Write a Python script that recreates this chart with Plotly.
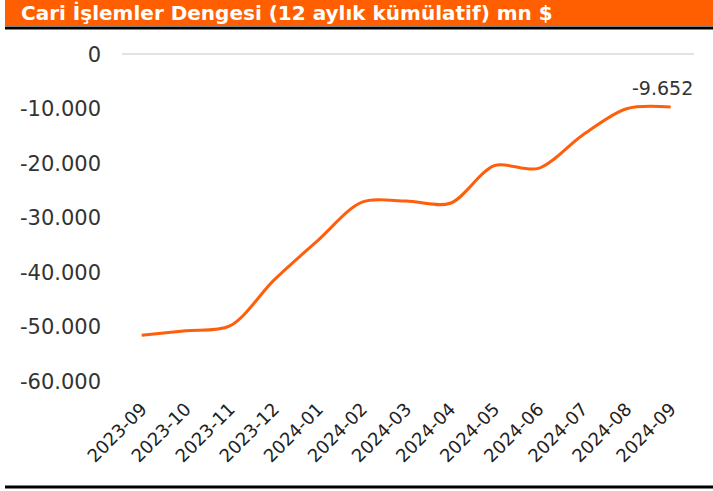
import plotly.graph_objects as go

categories = ["2023-09", "2023-10", "2023-11", "2023-12", "2024-01", "2024-02",
              "2024-03", "2024-04", "2024-05", "2024-06", "2024-07", "2024-08", "2024-09"]
values = [-51500, -50700, -49800, -41400, -34100, -27100,
          -26900, -27300, -20400, -20900, -14800, -9950, -9652]
y_ticks = [0, -10000, -20000, -30000, -40000, -50000, -60000]
y_tick_text = ["0", "-10.000", "-20.000", "-30.000", "-40.000", "-50.000", "-60.000"]
title_text = "Cari İşlemler Dengesi (12 aylık kümülatif) mn $"
last_label = "-9.652"

W, H = 713, 491
L, R, T, B = 122, 694, 49, 387.4

def px(x):
    return (x - L) / (R - L)

def py(y):
    return (B - y) / (B - T)

xs = list(range(len(categories)))

fig = go.Figure()
fig.add_trace(go.Scatter(
    x=xs, y=values, mode="lines",
    line=dict(color="#FF5F0A", width=3, shape="spline", smoothing=0.9),
    hoverinfo="skip", showlegend=False,
))

fig.update_layout(
    width=W, height=H,
    margin=dict(l=L, r=W - R, t=T, b=H - B, autoexpand=False),
    paper_bgcolor="white", plot_bgcolor="white",
    font=dict(family="DejaVu Sans", color="#333333"),
    xaxis=dict(
        range=[-0.447, 12.53], tickmode="array", tickvals=xs, ticktext=categories,
        tickangle=-45, showgrid=False, zeroline=False, showline=False,
        tickfont=dict(size=18, color="#222222"), ticks="", ticklabelstandoff=7,
    ),
    yaxis=dict(
        range=[-61000, 1000], tickmode="array", tickvals=y_ticks, ticktext=y_tick_text,
        showgrid=False, zeroline=True, zerolinecolor="#E3E3E3", zerolinewidth=2,
        showline=False, tickfont=dict(size=21, color="#333333"), ticks="",
        ticklabelstandoff=20,
    ),
    shapes=[
        dict(type="rect", xref="paper", yref="paper", x0=px(5), x1=px(713),
             y0=py(26), y1=py(0), fillcolor="#FF5F00", line=dict(width=0), layer="above"),
        dict(type="line", xref="paper", yref="paper", x0=px(5), x1=px(713),
             y0=py(28), y1=py(28), line=dict(color="black", width=3)),
        dict(type="line", xref="paper", yref="paper", x0=px(5), x1=px(713),
             y0=py(487.5), y1=py(487.5), line=dict(color="black", width=3)),
    ],
    annotations=[
        dict(text="<b>" + title_text + "</b>", xref="paper", yref="paper",
             x=px(19), y=py(13), xanchor="left", yanchor="middle", showarrow=False,
             font=dict(size=20, color="white", family="DejaVu Sans")),
        dict(text=last_label, x=xs[-1], y=values[-1], xref="x", yref="y",
             xanchor="center", yanchor="middle", xshift=-8, yshift=19, showarrow=False,
             font=dict(size=19, color="#333333")),
    ],
)

fig.write_html(
    "out.html",
    config={"displayModeBar": False},
    post_script="document.body.style.margin='0px';document.body.style.overflow='hidden';",
)
